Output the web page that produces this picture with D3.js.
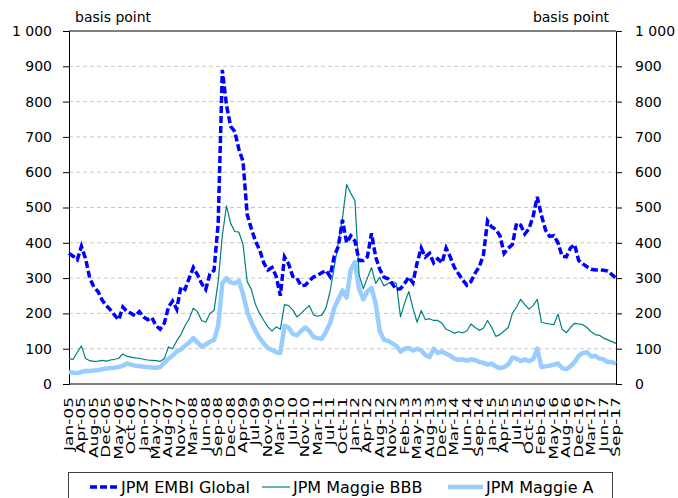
<!DOCTYPE html>
<html><head><meta charset="utf-8">
<script src="https://cdn.jsdelivr.net/npm/d3@7"></script>
<style>body{margin:0;background:#fff}svg{display:block}text{font-family:"DejaVu Sans",sans-serif;fill:#000}</style>
</head><body><svg id="c" width="678" height="498"></svg>
<script>
const xLabels=["Jan-05","Apr-05","Aug-05","Dec-05","May-06","Oct-06","Jan-07","May-07","Aug-07","Nov-07","Mar-08","Jun-08","Sep-08","Dec-08","Apr-09","Jul-09","Nov-09","Mar-10","Jul-10","Nov-10","Mar-11","Jul-11","Oct-11","Jan-12","Apr-12","Aug-12","Nov-12","Feb-13","May-13","Aug-13","Dec-13","Mar-14","Jun-14","Sep-14","Jan-15","Apr-15","Jul-15","Oct-15","Feb-16","May-16","Aug-16","Dec-16","Mar-17","Jun-17","Sep-17"];
const yTicks=[0,100,200,300,400,500,600,700,800,900,1000];
const seriesNames=["JPM EMBI Global","JPM Maggie BBB","JPM Maggie A"];
const embi=[370,362,352,390,355,300,275,262,238,222,210,195,182,218,205,200,193,205,190,182,188,165,155,172,218,235,212,275,268,300,330,310,285,268,312,322,455,890,790,730,715,665,630,480,440,405,380,343,323,330,305,250,360,340,305,300,278,280,292,303,308,315,322,305,362,390,465,400,420,405,350,350,360,427,360,325,303,298,284,268,270,285,303,287,343,385,360,370,343,355,343,385,360,330,312,295,280,290,314,332,365,462,445,438,420,370,385,395,455,450,425,440,475,530,478,436,418,420,400,362,360,385,395,350,340,332,325,323,324,322,320,310,300];
const bbb=[72,70,90,108,72,66,64,65,67,65,68,70,73,85,78,76,74,73,70,68,67,66,64,72,105,100,122,140,165,185,215,205,180,175,200,208,290,420,505,455,432,430,395,290,268,225,200,180,162,150,162,155,225,222,210,190,200,212,222,196,192,195,215,262,330,400,470,565,540,520,310,270,300,330,285,302,278,285,290,285,190,230,262,215,175,208,182,185,180,180,172,155,150,144,148,145,150,170,160,152,158,180,160,135,140,150,160,200,218,240,225,212,222,240,175,172,170,168,198,155,145,160,172,170,168,160,148,140,138,130,125,120,115];
const magA=[34,32,31,34,37,37,38,39,42,44,45,46,48,52,58,55,52,51,49,48,47,46,48,60,72,80,92,98,108,118,130,118,106,112,120,125,165,285,300,288,285,292,255,205,175,150,130,115,102,96,90,88,165,160,142,138,150,160,150,133,130,128,148,172,215,240,265,245,325,345,270,240,262,272,228,150,125,122,115,108,92,100,102,95,100,95,82,76,100,88,92,86,80,72,68,70,66,70,68,62,60,55,58,50,45,48,55,75,72,65,70,65,70,100,48,50,52,55,58,45,42,50,62,80,88,90,78,80,72,70,62,62,58];

const svg=d3.select("#c");
const L=69,R=616,T=31,B=384;
const N=embi.length;
const x=d3.scaleLinear().domain([0,N-1]).range([L,R]);
const y=d3.scaleLinear().domain([0,1000]).range([B,T]);
const fmt=v=>v>=1000?d3.format(",")(v).replace(","," "):String(v);

// grid
svg.append("g").selectAll("line").data(yTicks.filter(v=>v>0&&v<1000)).join("line")
 .attr("x1",L).attr("x2",R).attr("y1",d=>y(d)).attr("y2",d=>y(d))
 .attr("stroke","#c8c8c8").attr("stroke-dasharray","4,3").attr("stroke-width",1);
svg.append("line").attr("x1",L).attr("x2",R).attr("y1",y(1000)).attr("y2",y(1000)).attr("stroke","#808080").attr("stroke-width",2);

// axes
const ya=svg.append("g").attr("transform",`translate(${L},0)`).call(d3.axisLeft(y).tickValues(yTicks).tickSize(6).tickFormat(fmt));
const yb=svg.append("g").attr("transform",`translate(${R},0)`).call(d3.axisRight(y).tickValues(yTicks).tickSize(6).tickFormat(fmt));
[ya,yb].forEach(g=>{g.select(".domain").attr("stroke","#000");g.selectAll(".tick line").attr("stroke","#000");
 g.selectAll("text").style("font-family","DejaVu Sans").style("font-size","14px").attr("fill","#000");});
ya.selectAll("text").attr("x",-17);
yb.selectAll("text").attr("x",19);
ya.select(".tick:last-of-type line").remove();yb.select(".tick:last-of-type line").remove();

// x axis
const step=(N-1)/(xLabels.length-1);
svg.append("line").attr("x1",L).attr("x2",R).attr("y1",B).attr("y2",B).attr("stroke","#000");
svg.append("g").selectAll("text").data(xLabels).join("text")
 .attr("transform",(d,i)=>`translate(${x(i*step)+4},397) rotate(-90) scale(1.42,1)`)
 .attr("text-anchor","end").style("font-size","12px").text(d=>d);

// series
const line=d3.line().x((d,i)=>x(i)).y(d=>y(d));
svg.append("path").datum(magA).attr("d",line).attr("fill","none").attr("stroke","#99ccff").attr("stroke-width",4.5).attr("stroke-linejoin","round");
svg.append("path").datum(bbb).attr("d",line).attr("fill","none").attr("stroke","#008080").attr("stroke-width",1.2).attr("stroke-linejoin","round");
svg.append("path").datum(embi).attr("d",line).attr("fill","none").attr("stroke","#0000ff").attr("stroke-width",3.5).attr("stroke-dasharray","7,3");

// unit labels
svg.append("text").attr("x",75).attr("y",22).style("font-size","14px").text("basis point");
svg.append("text").attr("x",609).attr("y",22).attr("text-anchor","end").style("font-size","14px").text("basis point");

// legend
svg.append("rect").attr("x",68.5).attr("y",472.5).attr("width",544).attr("height",26).attr("fill","#fff").attr("stroke","#404040");
const lg=[{n:seriesNames[0],c:"#0000ff",w:3.5,da:"7,3",x0:90,x1:117,tx:121},
 {n:seriesNames[1],c:"#008080",w:1.2,da:null,x0:262,x1:290,tx:293},
 {n:seriesNames[2],c:"#99ccff",w:4.5,da:null,x0:448,x1:483,tx:486}];
lg.forEach(d=>{svg.append("line").attr("x1",d.x0).attr("x2",d.x1).attr("y1",487).attr("y2",487).attr("stroke",d.c).attr("stroke-width",d.w).attr("stroke-dasharray",d.da);
 svg.append("text").attr("x",d.tx).attr("y",493).style("font-size","16px").text(d.n);});
</script></body></html>
